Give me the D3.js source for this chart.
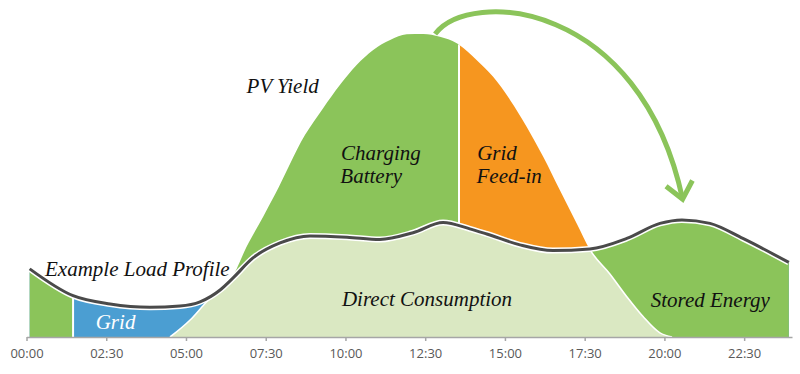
<!DOCTYPE html>
<html><head><meta charset="utf-8">
<script src="https://cdn.jsdelivr.net/npm/d3@7"></script>
<style>
html,body{margin:0;padding:0;background:#fff;}
svg{display:block;}
</style></head>
<body>
<svg id="chart" width="800" height="374"></svg>
<script>
// ---- data ----
const tickHours  = [0, 2.5, 5, 7.5, 10, 12.5, 15, 17.5, 20, 22.5];
const tickLabels = ["00:00","02:30","05:00","07:30","10:00","12:30","15:00","17:30","20:00","22:30"];

// Example load profile (hour of day, kW)
const loadHours = [0.1, 1.46, 2.62, 3.87, 4.81, 5.44, 6.07, 6.47, 7.10, 7.95, 8.89, 10.05, 11.08, 12.12, 13.06, 13.9, 14.43, 15.47, 16.50, 17.66, 18.82, 19.86, 20.55, 21.43, 22.46, 23.9];
const loadKW    = [2.13, 1.29, 1.03, 0.93, 0.97, 1.10, 1.47, 1.84, 2.47, 2.94, 3.16, 3.12, 3.05, 3.26, 3.58, 3.38, 3.22, 2.88, 2.70, 2.75, 3.08, 3.55, 3.66, 3.55, 3.08, 2.33];

// PV yield (hour of day, kW)
const pvHours = [4.50, 5.13, 5.65, 6.07, 6.47, 6.90, 7.42, 7.79, 8.73, 9.30, 9.83, 10.35, 10.87, 11.40, 11.92, 12.44, 12.96, 13.49, 14.11, 14.63, 15.16, 15.68, 16.20, 16.72, 17.25, 17.67, 18.29, 18.82, 19.33, 19.86, 20.24];
const pvKW    = [0, 0.53, 1.10, 1.50, 1.91, 2.82, 3.76, 4.45, 6.31, 7.15, 7.88, 8.50, 8.97, 9.28, 9.46, 9.47, 9.38, 9.18, 8.66, 8.13, 7.41, 6.57, 5.63, 4.59, 3.55, 2.72, 1.97, 1.26, 0.64, 0.13, 0];

const batteryToGridHour = 1.46;   // battery empty -> grid supply
const chargeToFeedHour  = 13.56;  // battery full -> grid feed-in

const labelTexts = ["Example Load Profile", "Grid", "PV Yield", "Charging", "Battery", "Grid", "Feed-in", "Direct Consumption", "Stored Energy"];
const labelHours = [0.58, 2.17, 6.90, 9.86, 9.84, 14.13, 14.11, 9.89, 19.57];
const labelKW    = [1.91, 0.25, 7.63, 5.53, 4.81, 5.53, 4.80, 0.97, 0.95];
const labelFill  = ["#111", "#fff", "#111", "#111", "#111", "#111", "#111", "#111", "#111"];

// curved arrow (hour, kW): start, control1, control2, tip
const arrowHours = [12.81, 13.90, 19.23, 20.57];
const arrowKW    = [9.47, 10.90, 10.53, 4.31];

// ---- drawing ----
const C = {green:"#8bc45a", blue:"#4b9ed2", orange:"#f6961f", light:"#dae8c2", line:"#4a4a4a"};
const svg = d3.select("#chart");
const x = d3.scaleLinear().domain([0, 24]).range([26.5, 792]);
const y = d3.scaleLinear().domain([0, 10]).range([337, 17]);

const load = loadHours.map((h, i) => ({h, v: loadKW[i]}));
const pv   = pvHours.map((h, i) => ({h, v: pvKW[i]}));

const area = d3.area().x(d => x(d.h)).y0(y(0)).y1(d => y(d.v)).curve(d3.curveMonotoneX);
const line = d3.line().x(d => x(d.h)).y(d => y(d.v)).curve(d3.curveMonotoneX);

const defs = svg.append("defs");
defs.append("clipPath").attr("id", "loadClip").append("path").attr("d", area(load));
defs.append("clipPath").attr("id", "pvClip").append("path").attr("d", area(pv));
function rectClip(id, h0, h1) {
  defs.append("clipPath").attr("id", id).append("rect")
    .attr("x", x(h0)).attr("y", 0).attr("width", x(h1) - x(h0)).attr("height", 374);
}
rectClip("beforeGrid", -1, batteryToGridHour);
rectClip("evening", 12, 26);
rectClip("charging", -1, chargeToFeedHour);
rectClip("feedIn", chargeToFeedHour, 26);

const g = svg.append("g");
// load area: grid (blue) and stored energy (green)
g.append("path").attr("d", area(load)).attr("fill", C.blue);
g.append("path").attr("d", area(load)).attr("fill", C.green).attr("clip-path", "url(#beforeGrid)");
g.append("path").attr("d", area(load)).attr("fill", C.green).attr("clip-path", "url(#evening)");
// PV area: charging (green) and feed-in (orange)
g.append("path").attr("d", area(pv)).attr("fill", C.green).attr("clip-path", "url(#charging)");
g.append("path").attr("d", area(pv)).attr("fill", C.orange).attr("clip-path", "url(#feedIn)");
// separators
g.append("line").attr("x1", x(chargeToFeedHour)).attr("x2", x(chargeToFeedHour))
  .attr("y1", y(0)).attr("y2", 0).attr("stroke", "#fff").attr("stroke-width", 2)
  .attr("clip-path", "url(#pvClip)");
g.append("line").attr("x1", x(batteryToGridHour)).attr("x2", x(batteryToGridHour))
  .attr("y1", y(0)).attr("y2", 0).attr("stroke", "#fff").attr("stroke-width", 2)
  .attr("clip-path", "url(#loadClip)");
// direct consumption = PV under load
g.append("path").attr("d", area(pv)).attr("fill", C.light).attr("clip-path", "url(#loadClip)");
g.append("path").attr("d", line(pv)).attr("fill", "none").attr("stroke", "#fff").attr("stroke-width", 1.6)
  .attr("clip-path", "url(#loadClip)");
// load line
g.append("path").attr("d", line(load)).attr("fill", "none").attr("stroke", "#fff").attr("stroke-width", 6);
g.append("path").attr("d", line(load)).attr("fill", "none").attr("stroke", C.line).attr("stroke-width", 3);

// axis
const axis = d3.axisBottom(x).tickValues(tickHours)
  .tickFormat((d, i) => tickLabels[i]).tickSizeInner(4).tickSizeOuter(0).tickPadding(8);
const ax = svg.append("g").attr("transform", `translate(0,${y(0)})`).call(axis);
ax.select(".domain").attr("stroke", "#a6a6a6").attr("stroke-width", 1.5);
ax.selectAll(".tick line").attr("stroke", "#a6a6a6").attr("stroke-width", 1.5);
ax.selectAll(".tick text").attr("fill", "#595959")
  .style("font-family", "'Open Sans', 'DejaVu Sans', sans-serif").style("font-size", "13px");

// labels
svg.append("g").selectAll("text").data(labelTexts).join("text")
  .attr("x", (d, i) => x(labelHours[i])).attr("y", (d, i) => y(labelKW[i]))
  .attr("fill", (d, i) => labelFill[i])
  .style("font-family", "'Liberation Serif', 'Times New Roman', serif")
  .style("font-style", "italic").style("font-size", "21px")
  .text(d => d);

// arrow
const ap = arrowHours.map((h, i) => [x(h), y(arrowKW[i])]);
const ar = svg.append("g").attr("fill", "none").attr("stroke", C.green).attr("stroke-width", 5);
ar.append("path").attr("d", `M${ap[0]}C${ap[1]} ${ap[2]} ${ap[3]}`);
const dx = ap[2][0] - ap[3][0], dy = ap[2][1] - ap[3][1], len = Math.hypot(dx, dy);
const bx = dx / len, by = dy / len, wl = 21, ang = 40 * Math.PI / 180;
const w1 = [ap[3][0] + wl * (bx * Math.cos(ang) - by * Math.sin(ang)), ap[3][1] + wl * (bx * Math.sin(ang) + by * Math.cos(ang))];
const w2 = [ap[3][0] + wl * (bx * Math.cos(-ang) - by * Math.sin(-ang)), ap[3][1] + wl * (bx * Math.sin(-ang) + by * Math.cos(-ang))];
ar.append("path").attr("d", `M${w1}L${ap[3]}L${w2}`);
</script>
</body></html>
